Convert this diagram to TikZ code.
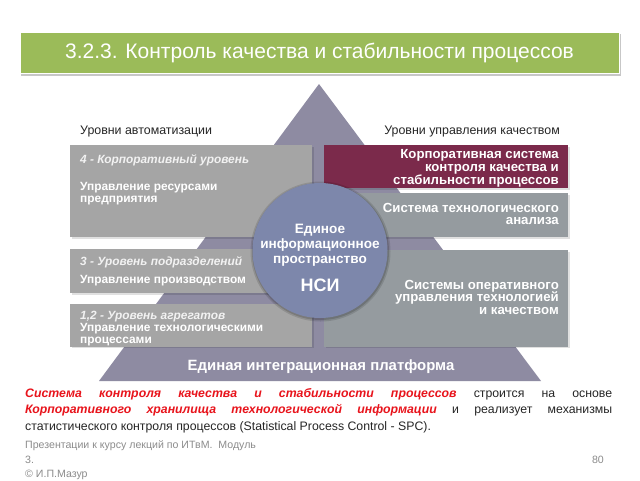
\documentclass[tikz,border=0pt]{standalone}
\usepackage{fontspec}
\setmainfont{Liberation Sans}
\definecolor{titlegreen}{HTML}{9BBB59}
\definecolor{pyr}{HTML}{8E8BA2}
\definecolor{lpanel}{HTML}{A5A5A5}
\definecolor{rpanel}{HTML}{959B9F}
\definecolor{maroonbox}{HTML}{7B2A4B}
\definecolor{circ}{HTML}{7D87AB}
\definecolor{foot}{HTML}{8C8C8C}
\definecolor{txt}{HTML}{262626}
\definecolor{redtxt}{HTML}{E8141C}
\begin{document}
\begin{tikzpicture}[x=1pt,y=-1pt,
  titlebar/.style={fill=titlegreen, draw=white, line width=0.8pt, text=white, inner sep=0,
    minimum width=599, minimum height=41, font=\fontsize{21}{24}\selectfont},
  boxshadow/.style={fill=black, opacity=0.12},
  lbox/.style={fill=lpanel, inner sep=0, anchor=north west},
  rbox/.style={fill=rpanel, inner sep=0, anchor=north west},
  mbox/.style={fill=maroonbox, inner sep=0, anchor=north west},
  ltxt/.style={text=white, inner sep=0, anchor=base west, font=\bfseries\fontsize{11.9}{13}\selectfont},
  lhead/.style={text=white!95!black, inner sep=0, anchor=base west, font=\bfseries\itshape\fontsize{11.9}{13}\selectfont},
  rtxt/.style={text=white, inner sep=0, anchor=base east, font=\bfseries\fontsize{13.2}{14}\selectfont},
  ctxt/.style={text=white, inner sep=0, anchor=base, font=\bfseries\fontsize{13.6}{15}\selectfont},
  lbl/.style={text=txt, inner sep=0, font=\fontsize{12.4}{13}\selectfont},
  foottxt/.style={text=foot, inner sep=0, anchor=base west, font=\fontsize{10.6}{12}\selectfont}
]
\useasboundingbox (0,0) rectangle (640,480);
\fill[white] (0,0) rectangle (640,480);

% title
\fill[black!22] (21,34) rectangle (621,76);
\node[titlebar] (title) at (319.5,52.5) {3.2.3. Контроль качества и стабильности процессов};

% pyramid
\fill[pyr] (319,84) -- (541,381) -- (99,381) -- cycle;

% panel shadows
\fill[boxshadow] (71.5,146.5) rectangle (313.5,238.5);
\fill[boxshadow] (71.5,250.5) rectangle (313.5,294.5);
\fill[boxshadow] (71.5,305.5) rectangle (313.5,348);
\fill[boxshadow] (325.5,146.5) rectangle (569.5,189.5);
\fill[boxshadow] (325.5,194.5) rectangle (569.5,238.5);
\fill[boxshadow] (325.5,251.5) rectangle (569.5,348);

% left panels
\node[lbox, minimum width=242, minimum height=92] (p4) at (70,145) {};
\node[lbox, minimum width=242, minimum height=44] (p3) at (70,249) {};
\node[lbox, minimum width=242, minimum height=42.5] (p12) at (70,304) {};
% right panels
\node[mbox, minimum width=244, minimum height=43] (corp) at (324,145) {};
\node[rbox, minimum width=244, minimum height=44] (anal) at (324,193) {};
\node[rbox, minimum width=244, minimum height=96.5] (oper) at (324,250) {};

% circle
\fill[black, opacity=0.12] (320.5,251.5) circle (70);
\fill[black, opacity=0.15] (320.5,251.5) circle (68.5);
\node[circle, fill=circ, minimum size=135, inner sep=0] (nsi) at (320,250.5) {};

% labels
\node[lbl, anchor=base west] (lab1) at (80,134.5) {Уровни автоматизации};
\node[lbl, anchor=base east] (lab2) at (560,134.5) {Уровни управления качеством};

% left texts
\node[lhead] (t4a) at (80,163) {4 - Корпоративный уровень};
\node[ltxt] (t4b) at (80,190.5) {Управление ресурсами};
\node[ltxt] (t4c) at (80,202.5) {предприятия};
\node[lhead] (t3a) at (80,265.5) {3 - Уровень подразделений};
\node[ltxt] (t3b) at (80,283.5) {Управление производством};
\node[lhead] (t12a) at (80,319.5) {1,2 - Уровень агрегатов};
\node[ltxt] (t12b) at (80,331.5) {Управление технологическими};
\node[ltxt] (t12c) at (80,343.5) {процессами};

% right texts
\node[rtxt] (rc1) at (559,158) {Корпоративная система};
\node[rtxt] (rc2) at (559,171) {контроля качества и};
\node[rtxt] (rc3) at (559,184) {стабильности процессов};
\node[rtxt] (ra1) at (559,212) {Система технологического};
\node[rtxt] (ra2) at (559,224.5) {анализа};
\node[rtxt] (ro1) at (559,289) {Системы оперативного};
\node[rtxt] (ro2) at (559,301.5) {управления технологией};
\node[rtxt] (ro3) at (559,314) {и качеством};

% circle texts
\node[ctxt] (c1) at (320,233) {Единое};
\node[ctxt] (c2) at (320,248) {информационное};
\node[ctxt] (c3) at (320,263) {пространство};
\node[ctxt, font=\bfseries\fontsize{18}{19}\selectfont] (c4) at (320,291.5) {НСИ};

% bottom band
\node[text=white, inner sep=0, anchor=base, font=\bfseries\fontsize{14.9}{16}\selectfont] (band) at (321,370.5) {Единая интеграционная платформа};

% paragraph
\node[inner sep=0, anchor=north west, text width=587, align=justify, text=txt,
  font=\fontsize{12.3}{16.5}\selectfont] (para) at (25,388)
  {\textcolor{redtxt}{\textbf{\textit{Система контроля качества и стабильности процессов}}} строится на основе\linebreak
   \textcolor{redtxt}{\textbf{\textit{Корпоративного хранилища технологической информации}}} и реализует механизмы\linebreak
   статистического контроля процессов (Statistical Process Control - SPC).};

% footer
\node[foottxt] (f1) at (25,448.5) {Презентации к курсу лекций по ИТвМ.\ \ Модуль};
\node[foottxt] (f2) at (25,463.5) {3.};
\node[foottxt] (f3) at (25,477) {© И.П.Мазур};
\node[foottxt, anchor=base east] (f4) at (604,463.5) {80};
\end{tikzpicture}
\end{document}
